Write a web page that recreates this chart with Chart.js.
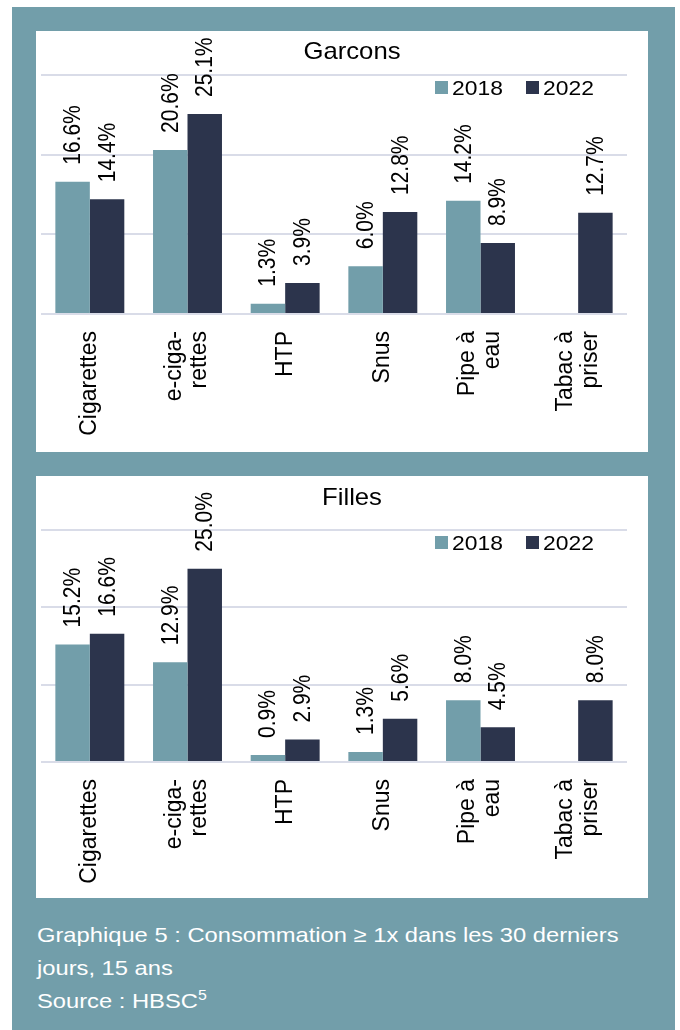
<!DOCTYPE html>
<html><head><meta charset="utf-8">
<script src="https://cdn.jsdelivr.net/npm/chart.js@4/dist/chart.umd.min.js"></script>
<style>
html,body{margin:0;padding:0;background:#fff;width:680px;height:1030px;overflow:hidden;}
#frame{position:absolute;left:12px;top:7px;width:663px;height:1023px;background:#729eaa;}
.panel{position:absolute;left:36px;width:612px;background:#fff;}
#p1{top:31px;height:421px;}
#p2{top:476px;height:422px;}
canvas{display:block;}
.cap{position:absolute;left:37px;color:#fff;font-family:"Liberation Sans",Arial,sans-serif;font-size:21px;line-height:21px;transform-origin:0 0;transform:scaleX(1.13);white-space:nowrap;}
.cap sup{font-size:14px;vertical-align:baseline;position:relative;top:-8px;}
</style></head>
<body>
<div id="frame"></div>
<div class="panel" id="p1"><canvas id="c1" width="612" height="421"></canvas></div>
<div class="panel" id="p2"><canvas id="c2" width="612" height="422"></canvas></div>
<div class="cap" style="top:924px">Graphique 5 : Consommation ≥ 1x dans les 30 derniers</div>
<div class="cap" style="top:957px">jours, 15 ans</div>
<div class="cap" style="top:990px">Source : HBSC<sup>5</sup></div>
<script>
// ---- data ----
const categories = [['Cigarettes'], ['e-ciga-', 'rettes'], ['HTP'], ['Snus'], ['Pipe à', 'eau'], ['Tabac à', 'priser']];
const seriesNames = ['2018', '2022'];
const boys2018 = [16.6, 20.6, 1.3, 6.0, 14.2, null];
const boys2022 = [14.4, 25.1, 3.9, 12.8, 8.9, 12.7];
const girls2018 = [15.2, 12.9, 0.9, 1.3, 8.0, null];
const girls2022 = [16.6, 25.0, 2.9, 5.6, 4.5, 8.0];
const yTicks = [0, 10, 20, 30];

const COL_2018 = '#729eaa';
const COL_2022 = '#2c344c';
const FONT = '"Liberation Sans", Arial, sans-serif';

function txt(ctx, s, x, y, o) {
  ctx.save();
  ctx.translate(x, y);
  ctx.scale(o.sx || 1, 1);
  if (o.rot) ctx.rotate(o.rot);
  ctx.font = o.font;
  ctx.fillStyle = o.color || '#000';
  ctx.textAlign = o.align || 'left';
  ctx.textBaseline = o.baseline || 'alphabetic';
  ctx.fillText(s, 0, o.dy || 0);
  ctx.restore();
}

const drawPlugin = {
  id: 'drawPlugin',
  afterDatasetsDraw(chart) {
    const ctx = chart.ctx;
    const cfg = chart.options.plugins.drawPlugin;
    const area = chart.chartArea;
    // data labels
    chart.data.datasets.forEach((ds, di) => {
      const meta = chart.getDatasetMeta(di);
      meta.data.forEach((bar, i) => {
        const v = ds.data[i];
        if (v === null || v === undefined) return;
        txt(ctx, v.toFixed(1) + '%', bar.x + 1, bar.y - 17, {
          rot: -Math.PI / 2, sx: 1.12, font: '21px ' + FONT, align: 'left', baseline: 'middle'
        });
      });
    });
    // x category labels
    const xs = chart.scales.x;
    chart.data.labels.forEach((lab, i) => {
      const cx = xs.getPixelForValue(i);
      const n = lab.length;
      lab.forEach((line, li) => {
        const off = (li - (n - 1) / 2) * 25;
        txt(ctx, line, cx + off, area.bottom + 17, {
          rot: -Math.PI / 2, font: '23px ' + FONT, align: 'right', baseline: 'middle'
        });
      });
    });
    // title
    txt(ctx, cfg.title, cfg.titleX, cfg.titleY, { sx: 1.07, font: '24px ' + FONT, align: 'center' });
    // legend
    const r = area.right;
    const ly = area.top;
    const items = [[seriesNames[0], COL_2018, r - 192], [seriesNames[1], COL_2022, r - 101]];
    items.forEach(([name, col, x]) => {
      ctx.fillStyle = col;
      ctx.fillRect(x, ly + 6, 13, 13);
      txt(ctx, name, x + 17, ly + 20, { sx: 1.09, font: '21px ' + FONT, align: 'left' });
    });
  }
};

function makeChart(id, title, d18, d22, padTop, axisH, titleY) {
  new Chart(document.getElementById(id), {
    type: 'bar',
    data: {
      labels: categories,
      datasets: [
        { label: seriesNames[0], data: d18, backgroundColor: COL_2018 },
        { label: seriesNames[1], data: d22, backgroundColor: COL_2022 }
      ]
    },
    options: {
      responsive: false,
      animation: false,
      layout: { padding: { top: padTop, left: 5, right: 21, bottom: 0 } },
      datasets: { bar: { categoryPercentage: 0.706, barPercentage: 1.0 } },
      plugins: {
        legend: { display: false },
        title: { display: false },
        tooltip: { enabled: false },
        drawPlugin: { title: title, titleX: 316, titleY: titleY }
      },
      scales: {
        x: {
          grid: { display: false },
          border: { display: false },
          ticks: { display: false },
          afterFit: s => { s.height = axisH; }
        },
        y: {
          min: yTicks[0],
          max: yTicks[yTicks.length - 1],
          afterBuildTicks: s => { s.ticks = yTicks.map(v => ({ value: v })); },
          ticks: { display: false },
          border: { display: false },
          grid: { color: '#d9dce8', lineWidth: 2, drawTicks: false },
          afterFit: s => { s.width = 0; }
        }
      }
    },
    plugins: [drawPlugin]
  });
}

makeChart('c1', 'Garcons', boys2018, boys2022, 44, 138, 28);
makeChart('c2', 'Filles', girls2018, girls2022, 54, 136, 29);
</script>
</body></html>
